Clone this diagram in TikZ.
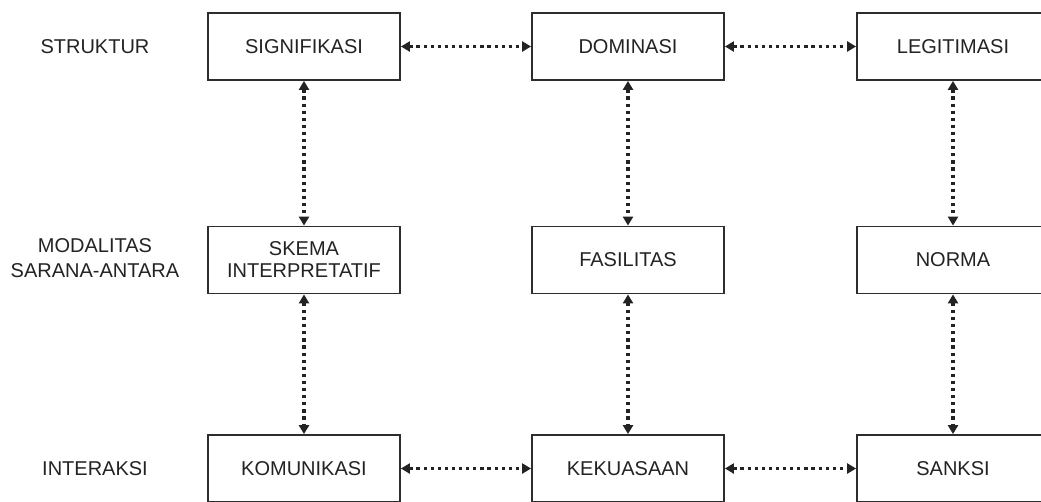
\documentclass[tikz,border=0pt]{standalone}
\usepackage{fontspec}
\setmainfont{Liberation Sans}
\usetikzlibrary{arrows.meta}
\definecolor{ink}{RGB}{35,35,35}
\definecolor{edge}{RGB}{45,45,45}
\tikzset{
  box/.style={draw=edge, line width=1.8pt, fill=white, minimum width=192pt, minimum height=67pt,
    inner sep=0pt, align=center, text=ink, font=\fontsize{20}{22}\selectfont},
  lbl/.style={text=ink, align=center, inner sep=0pt, font=\fontsize{20}{25}\selectfont},
  link/.style={draw=ink, line width=3.2pt, dash pattern=on 3.2pt off 3.9pt,
    {Triangle[width=10pt,length=9pt]}-{Triangle[width=10pt,length=9pt]}, shorten <=0pt, shorten >=0pt}
}
\begin{document}
\begin{tikzpicture}[x=1pt,y=-1pt]
\useasboundingbox (0,0) rectangle (1041,501);
\clip (0,0) rectangle (1041,501);
\fill[white] (0,0) rectangle (1041,501);
% row labels
\node[lbl] (r1) at (95,47) {STRUKTUR};
\node[lbl] (r2) at (95,258) {MODALITAS\\SARANA-ANTARA};
\node[lbl] (r3) at (95,469) {INTERAKSI};
% boxes
\node[box] (a1) at (304,46.5) {SIGNIFIKASI};
\node[box] (b1) at (628,46.5) {DOMINASI};
\node[box] (c1) at (953,46.5) {LEGITIMASI};
\node[box] (a2) at (304,260) {SKEMA\\INTERPRETATIF};
\node[box] (b2) at (628,260) {FASILITAS};
\node[box] (c2) at (953,260) {NORMA};
\node[box] (a3) at (304,468.5) {KOMUNIKASI};
\node[box] (b3) at (628,468.5) {KEKUASAAN};
\node[box] (c3) at (953,468.5) {SANKSI};
% horizontal links
\draw[link] (a1.east) -- (b1.west);
\draw[link] (b1.east) -- (c1.west);
\draw[link] (a3.east) -- (b3.west);
\draw[link] (b3.east) -- (c3.west);
% vertical links
\draw[link] (a1.south) -- (a2.north);
\draw[link] (b1.south) -- (b2.north);
\draw[link] (c1.south) -- (c2.north);
\draw[link] (a2.south) -- (a3.north);
\draw[link] (b2.south) -- (b3.north);
\draw[link] (c2.south) -- (c3.north);
\end{tikzpicture}
\end{document}
